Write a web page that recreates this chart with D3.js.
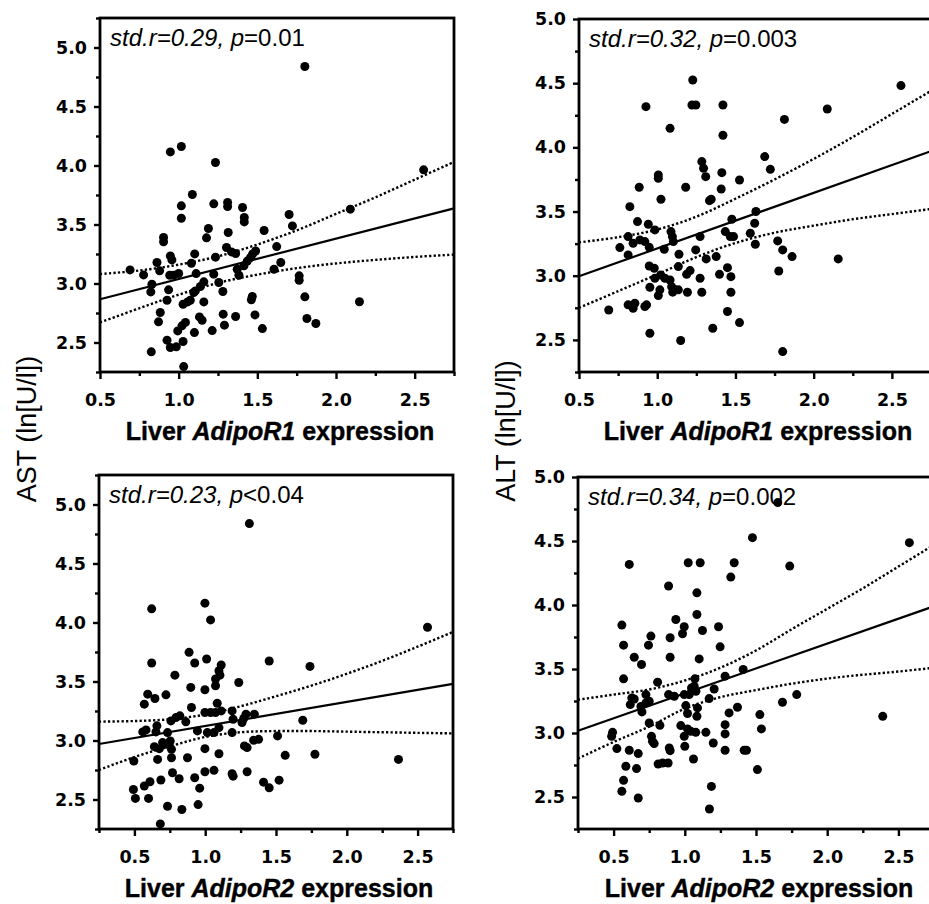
<!DOCTYPE html>
<html>
<head>
<meta charset="utf-8">
<script src="https://cdn.jsdelivr.net/npm/d3@7"></script>
<style>
  body { margin: 0; background: #fff; }
  svg { display: block; }
</style>
</head>
<body>
<div id="chart"></div>
<script>
// Datos: [expresión, ln(U/l)]
const astR1 = [[0.947,4.115],[1.017,4.161],[1.234,4.025],[1.087,3.754],[1.017,3.658],[1.017,3.553],[1.223,3.675],[1.311,3.686],[1.311,3.652],[1.406,3.644],[1.417,3.559],[1.417,3.522],[1.702,3.585],[1.723,3.488],[1.543,3.449],[1.189,3.466],[1.177,3.387],[1.315,3.432],[0.904,3.39],[0.904,3.353],[0.947,3.234],[0.957,3.2],[0.862,3.178],[0.879,3.107],[0.777,3.073],[0.691,3.115],[0.83,2.994],[0.823,2.929],[0.943,3.07],[0.968,3.07],[1.0,3.085],[1.102,3.251],[1.081,3.172],[1.111,3.084],[0.936,2.946],[0.926,2.858],[0.883,2.754],[0.872,2.675],[1.234,3.223],[1.304,3.305],[1.336,3.268],[1.362,3.254],[1.223,3.079],[1.255,3.008],[1.281,2.932],[1.16,3.014],[1.138,2.975],[1.106,2.937],[1.096,2.924],[1.074,2.858],[1.057,2.844],[1.028,2.824],[1.16,2.844],[1.132,2.717],[1.149,2.689],[1.043,2.67],[1.021,2.641],[0.994,2.598],[1.1,2.584],[1.213,2.601],[1.283,2.74],[1.291,2.647],[1.362,2.72],[1.485,2.734],[1.532,2.618],[1.468,2.89],[1.462,2.862],[0.926,2.52],[0.947,2.458],[0.985,2.463],[1.028,2.508],[0.826,2.421],[1.032,2.296],[1.372,3.121],[1.383,3.07],[1.415,3.15],[1.436,3.19],[1.457,3.22],[1.47,3.25],[1.489,3.275],[1.623,3.313],[1.649,3.178],[1.606,3.121],[1.766,3.065],[1.766,3.028],[1.802,4.839],[1.802,2.887],[1.815,2.703],[1.872,2.661],[2.091,3.63],[2.149,2.845],[2.557,3.963]];

const altR1 = [[1.227,4.525],[0.928,4.317],[1.222,4.33],[1.247,4.33],[1.42,4.33],[1.813,4.218],[1.082,4.148],[1.42,4.094],[1.687,3.928],[1.723,3.829],[1.285,3.889],[1.296,3.837],[1.31,3.772],[1.413,3.803],[1.007,3.785],[1.007,3.759],[0.885,3.689],[1.182,3.689],[1.526,3.746],[1.409,3.676],[1.024,3.596],[1.334,3.585],[1.345,3.596],[0.825,3.538],[0.874,3.422],[0.943,3.401],[0.985,3.357],[0.814,3.305],[0.846,3.253],[0.889,3.279],[0.921,3.266],[0.761,3.219],[0.814,3.162],[0.949,3.221],[1.045,3.206],[1.088,3.344],[1.097,3.305],[1.103,3.266],[1.274,3.305],[1.139,3.167],[1.246,3.201],[1.313,3.131],[1.377,3.149],[1.477,3.44],[1.435,3.344],[1.467,3.305],[1.488,3.305],[1.631,3.5],[1.623,3.409],[1.595,3.331],[1.627,3.245],[1.77,3.271],[1.802,3.201],[1.862,3.149],[1.777,3.037],[0.949,3.076],[0.981,3.058],[1.135,3.071],[1.21,3.04],[1.188,3.011],[1.022,3.006],[0.985,2.98],[1.049,2.98],[1.082,2.967],[1.092,2.915],[1.114,2.89],[1.135,2.89],[1.099,2.872],[0.953,2.91],[1.017,2.89],[1.007,2.845],[1.193,2.871],[1.274,2.98],[1.285,2.871],[1.398,3.011],[1.449,3.063],[1.471,2.993],[1.471,2.871],[1.449,2.721],[1.526,2.635],[1.355,2.591],[0.69,2.733],[0.814,2.773],[0.857,2.786],[0.846,2.747],[0.921,2.76],[0.932,2.773],[0.953,2.552],[1.15,2.495],[1.802,2.409],[2.087,4.299],[2.558,4.481],[2.157,3.131]];

const astR2 = [[0.622,4.116],[0.998,4.164],[1.038,4.022],[0.886,3.747],[0.926,3.657],[1.01,3.691],[0.622,3.657],[1.452,3.674],[1.113,3.64],[1.097,3.591],[1.104,3.554],[1.073,3.521],[1.073,3.464],[0.786,3.554],[1.237,3.492],[0.898,3.45],[0.998,3.43],[0.723,3.387],[0.594,3.393],[0.57,3.308],[0.645,3.356],[0.903,3.28],[1.085,3.316],[1.073,3.237],[1.113,3.251],[0.998,3.237],[1.038,3.237],[0.821,3.209],[0.793,3.194],[0.758,3.166],[0.863,3.158],[1.19,3.251],[1.197,3.18],[1.26,3.152],[1.288,3.223],[1.347,3.223],[1.272,3.186],[0.659,3.124],[0.652,3.073],[0.582,3.09],[0.559,3.073],[0.734,3.067],[0.945,3.081],[1.015,3.067],[1.062,3.067],[1.097,3.109],[1.19,3.067],[1.277,2.954],[1.296,2.94],[1.342,3.002],[1.377,3.01],[1.511,3.039],[1.565,2.874],[0.641,2.948],[0.699,2.982],[0.676,2.931],[0.723,2.968],[0.753,2.996],[0.762,2.925],[0.496,2.826],[0.664,2.84],[0.762,2.854],[0.875,2.854],[0.998,2.931],[1.097,2.888],[0.769,2.727],[0.816,2.676],[0.687,2.665],[0.61,2.65],[0.57,2.614],[0.493,2.585],[0.507,2.509],[0.6,2.509],[0.926,2.684],[0.961,2.596],[0.998,2.735],[1.062,2.747],[1.19,2.718],[1.197,2.698],[1.296,2.735],[1.412,2.647],[1.452,2.599],[1.522,2.664],[0.734,2.443],[0.835,2.415],[0.95,2.457],[0.683,2.293],[1.312,4.838],[2.57,3.96],[2.365,2.84],[1.74,3.628],[1.775,2.883],[1.689,3.172]];

const altR2 = [[1.475,4.526],[0.61,4.317],[1.024,4.33],[1.108,4.33],[1.347,4.33],[1.323,4.218],[1.737,4.304],[0.886,4.148],[1.085,4.095],[1.085,3.926],[0.937,3.887],[0.996,3.83],[0.984,3.775],[1.124,3.801],[1.237,3.83],[1.248,3.673],[0.558,3.843],[0.57,3.686],[0.762,3.757],[0.745,3.686],[0.897,3.744],[0.897,3.592],[1.101,3.579],[0.645,3.592],[0.696,3.535],[0.57,3.423],[0.809,3.397],[1.283,3.444],[1.41,3.496],[1.071,3.423],[1.066,3.365],[1.078,3.326],[1.047,3.352],[1.031,3.3],[1.206,3.344],[1.171,3.269],[0.886,3.3],[0.926,3.287],[0.996,3.3],[0.628,3.274],[0.645,3.266],[0.617,3.222],[0.727,3.3],[0.75,3.248],[0.727,3.235],[0.699,3.165],[0.692,3.208],[1.007,3.214],[1.019,3.152],[1.089,3.196],[1.085,3.131],[0.75,3.078],[0.825,3.06],[0.972,3.058],[1.019,3.032],[1.042,3.013],[1.077,3.005],[1.148,3.005],[0.996,2.974],[1.311,3.157],[1.37,3.201],[1.283,3.065],[1.283,2.993],[1.527,3.144],[1.538,3.032],[1.2,2.922],[1.283,2.865],[1.417,2.865],[1.433,2.865],[1.51,2.714],[1.686,3.24],[1.786,3.3],[0.493,3.005],[0.486,2.974],[0.523,2.878],[0.61,2.865],[0.673,2.839],[0.586,2.74],[0.661,2.722],[0.766,2.974],[0.773,2.935],[0.785,2.917],[0.891,2.883],[0.897,2.862],[0.813,2.758],[0.844,2.766],[0.883,2.766],[1.0,2.896],[1.061,2.797],[0.57,2.63],[0.558,2.544],[0.673,2.492],[1.187,2.583],[1.173,2.406],[2.39,3.13],[2.577,4.487],[1.653,4.8]];

// Rectas de regresión (extremos) y bandas de confianza
const fitAstR1 = [[0.5, 2.867], [2.75, 3.637]];
const fitAltR1 = [[0.5, 2.996], [2.75, 3.97]];
const fitAstR2 = [[0.25, 2.97], [2.75, 3.48]];
const fitAltR2 = [[0.25, 3.018], [2.75, 3.99]];

const bandXR1 = [0.5, 0.75, 1.0, 1.25, 1.5, 1.75, 2.0, 2.25, 2.5, 2.75];
const upperAstR1 = [3.08, 3.11, 3.16, 3.23, 3.33, 3.45, 3.59, 3.73, 3.88, 4.03];
const lowerAstR1 = [2.67, 2.79, 2.905, 3.005, 3.075, 3.13, 3.17, 3.20, 3.225, 3.245];
const upperAltR1 = [3.26, 3.30, 3.36, 3.46, 3.60, 3.75, 3.91, 4.08, 4.26, 4.44];
const lowerAltR1 = [2.75, 2.88, 3.01, 3.145, 3.255, 3.335, 3.39, 3.44, 3.48, 3.52];

const bandXR2 = [0.25, 0.5, 0.75, 1.0, 1.25, 1.5, 1.75, 2.0, 2.25, 2.5, 2.75];
const upperAstR2 = [3.16, 3.165, 3.18, 3.22, 3.29, 3.375, 3.465, 3.565, 3.675, 3.795, 3.92];
const lowerAstR2 = [2.75, 2.86, 2.95, 3.03, 3.07, 3.08, 3.08, 3.075, 3.07, 3.065, 3.06];
const upperAltR2 = [3.26, 3.30, 3.34, 3.41, 3.51, 3.645, 3.81, 3.97, 4.13, 4.30, 4.47];
const lowerAltR2 = [2.80, 2.93, 3.05, 3.19, 3.28, 3.335, 3.385, 3.425, 3.455, 3.48, 3.51];

// Ticks
const xMajor = [0.5, 1.0, 1.5, 2.0, 2.5];
const xMinor = [0.25, 0.75, 1.25, 1.75, 2.25, 2.75];
const yMajor = [2.5, 3.0, 3.5, 4.0, 4.5, 5.0];
const yMinor = [2.25, 2.75, 3.25, 3.75, 4.25, 4.75, 5.25];

const stats = [
    { r: "0.29", p: "=0.01" },
    { r: "0.32", p: "=0.003" },
    { r: "0.23", p: "<0.04" },
    { r: "0.34", p: "=0.002" }
];

const font = "'Liberation Sans', Arial, Helvetica, sans-serif";
const tickFont = "'DejaVu Sans', Verdana, sans-serif";

// Crear el contenedor SVG
const svg = d3.select("#chart")
    .append("svg")
    .attr("width", 929)
    .attr("height", 904)
    .attr("font-family", font);

const panels = [
    { data: astR1, fit: fitAstR1, bandX: bandXR1, upper: upperAstR1, lower: lowerAstR1, gene: "AdipoR1", stat: stats[0],
      xDomain: [0.5, 2.75], yDomain: [2.25, 5.25], left: 100, right: 454, top: 18, bottom: 372 },
    { data: altR1, fit: fitAltR1, bandX: bandXR1, upper: upperAltR1, lower: lowerAltR1, gene: "AdipoR1", stat: stats[1],
      xDomain: [0.5, 2.75], yDomain: [2.25, 5.0], left: 579, right: 931, top: 19, bottom: 372 },
    { data: astR2, fit: fitAstR2, bandX: bandXR2, upper: upperAstR2, lower: lowerAstR2, gene: "AdipoR2", stat: stats[2],
      xDomain: [0.25, 2.75], yDomain: [2.25, 5.25], left: 99, right: 453, top: 475, bottom: 829 },
    { data: altR2, fit: fitAltR2, bandX: bandXR2, upper: upperAltR2, lower: lowerAltR2, gene: "AdipoR2", stat: stats[3],
      xDomain: [0.25, 2.75], yDomain: [2.25, 5.0], left: 578, right: 934, top: 477, bottom: 829 }
];

panels.forEach(drawPanel);

function drawPanel(p) {
    const x = d3.scaleLinear().domain(p.xDomain).range([p.left, p.right]);
    const y = d3.scaleLinear().domain(p.yDomain).range([p.bottom, p.top]);
    const g = svg.append("g");
    const inX = v => v >= p.xDomain[0] - 1e-9 && v <= p.xDomain[1] + 1e-9;
    const inY = v => v >= p.yDomain[0] - 1e-9 && v <= p.yDomain[1] + 1e-9;

    // Ticks menores
    g.append("g")
        .attr("transform", `translate(${p.left},0)`)
        .call(d3.axisLeft(y).tickValues(yMinor.filter(inY)).tickSize(4).tickFormat(""))
        .call(a => a.select(".domain").remove());
    g.append("g")
        .attr("transform", `translate(0,${p.bottom})`)
        .call(d3.axisBottom(x).tickValues(xMinor.filter(inX)).tickSize(4).tickFormat(""))
        .call(a => a.select(".domain").remove());

    // Ticks mayores con etiquetas
    const yAxis = g.append("g")
        .attr("transform", `translate(${p.left},0)`)
        .call(d3.axisLeft(y).tickValues(yMajor.filter(inY)).tickSize(6).tickPadding(7).tickFormat(d3.format(".1f")))
        .call(a => a.select(".domain").remove());
    const xAxis = g.append("g")
        .attr("transform", `translate(0,${p.bottom})`)
        .call(d3.axisBottom(x).tickValues(xMajor).tickSize(7).tickPadding(15).tickFormat(d3.format(".1f")))
        .call(a => a.select(".domain").remove());

    [yAxis, xAxis].forEach(a => a
        .attr("font-family", tickFont)
        .attr("font-size", 17.5)
        .attr("font-weight", "bold"));
    g.selectAll(".tick line").attr("stroke-width", 2.4);
    g.selectAll(".tick text").attr("fill", "#000");

    // Marco
    g.append("rect")
        .attr("x", p.left)
        .attr("y", p.top)
        .attr("width", p.right - p.left)
        .attr("height", p.bottom - p.top)
        .attr("fill", "none")
        .attr("stroke", "#000")
        .attr("stroke-width", 2.8);

    // Bandas de confianza (punteadas)
    const band = d3.line()
        .x(d => x(d[0]))
        .y(d => y(d[1]))
        .curve(d3.curveCatmullRom.alpha(0.5));
    [p.upper, p.lower].forEach(vals => {
        g.append("path")
            .attr("d", band(p.bandX.map((v, i) => [v, vals[i]])))
            .attr("fill", "none")
            .attr("stroke", "#000")
            .attr("stroke-width", 2.4)
            .attr("stroke-dasharray", "2.3,2.2");
    });

    // Recta de regresión
    g.append("path")
        .attr("d", d3.line().x(d => x(d[0])).y(d => y(d[1]))(p.fit))
        .attr("fill", "none")
        .attr("stroke", "#000")
        .attr("stroke-width", 2.2);

    // Texto de la correlación
    const t = g.append("text")
        .attr("x", p.left + 10)
        .attr("y", p.top + 28)
        .attr("font-size", 24)
        .attr("fill", "#000");
    t.append("tspan").attr("font-style", "italic").text(`std.r=${p.stat.r}, p`);
    t.append("tspan").text(p.stat.p);

    // Puntos
    g.selectAll("circle")
        .data(p.data)
        .enter().append("circle")
        .attr("cx", d => x(d[0]))
        .attr("cy", d => y(d[1]))
        .attr("r", 4.5)
        .attr("fill", "#000");

    // Título del eje X
    const xt = g.append("text")
        .attr("x", (p.left + p.right) / 2 + 3)
        .attr("y", p.bottom + 68)
        .attr("text-anchor", "middle")
        .attr("font-size", 25)
        .attr("font-weight", "bold")
        .attr("fill", "#000")
        .attr("stroke", "#000")
        .attr("stroke-width", 0.4);
    xt.append("tspan").text("Liver ");
    xt.append("tspan").attr("font-style", "italic").text(p.gene);
    xt.append("tspan").text(" expression");
}

// Títulos del eje Y
svg.append("text")
    .attr("transform", "translate(36,429) rotate(-90)")
    .attr("text-anchor", "middle")
    .attr("font-size", 27)
    .attr("fill", "#000")
    .text("AST (ln[U/l])");

svg.append("text")
    .attr("transform", "translate(515,431) rotate(-90)")
    .attr("text-anchor", "middle")
    .attr("font-size", 27)
    .attr("fill", "#000")
    .text("ALT (ln[U/l])");
</script>
</body>
</html>
